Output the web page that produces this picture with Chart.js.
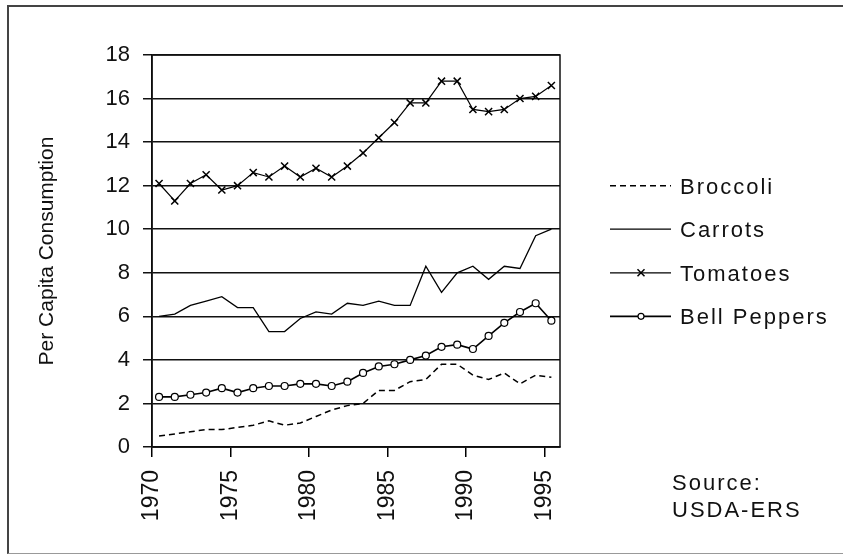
<!DOCTYPE html>
<html lang="en">
<head>
    <meta charset="UTF-8">
    <title>Per Capita Consumption</title>
    <script src="https://cdn.jsdelivr.net/npm/chart.js"></script>
    <style>
        * {
            margin: 0;
            padding: 0;
            box-sizing: border-box;
        }

        body {
            width: 843px;
            height: 554px;
            overflow: hidden;
            background: #fff;
            position: relative;
        }

        /* moldura da figura (sem lado direito, como na original) */
        .frame {
            position: absolute;
            left: 7px;
            top: 5px;
            width: 900px;
            height: 549px;
            border-top: 2px solid #444;
            border-left: 2px solid #444;
            border-bottom: 1px solid #999;
        }

        canvas {
            position: absolute;
            left: 0;
            top: 0;
        }
    </style>
</head>
<body>
    <div class="frame"></div>
    <canvas id="vegChart" width="843" height="554"></canvas>

    <script>
        // dados
        const years = [1970, 1971, 1972, 1973, 1974, 1975, 1976, 1977, 1978, 1979, 1980, 1981, 1982,
                       1983, 1984, 1985, 1986, 1987, 1988, 1989, 1990, 1991, 1992, 1993, 1994, 1995];
        const broccoli = [0.5, 0.6, 0.7, 0.8, 0.8, 0.9, 1.0, 1.2, 1.0, 1.1, 1.4, 1.7, 1.9,
                          2.0, 2.6, 2.6, 3.0, 3.1, 3.8, 3.8, 3.3, 3.1, 3.4, 2.9, 3.3, 3.2];
        const carrots = [6.0, 6.1, 6.5, 6.7, 6.9, 6.4, 6.4, 5.3, 5.3, 5.9, 6.2, 6.1, 6.6,
                         6.5, 6.7, 6.5, 6.5, 8.3, 7.1, 8.0, 8.3, 7.7, 8.3, 8.2, 9.7, 10.0];
        const tomatoes = [12.1, 11.3, 12.1, 12.5, 11.8, 12.0, 12.6, 12.4, 12.9, 12.4, 12.8, 12.4, 12.9,
                          13.5, 14.2, 14.9, 15.8, 15.8, 16.8, 16.8, 15.5, 15.4, 15.5, 16.0, 16.1, 16.6];
        const bellPeppers = [2.3, 2.3, 2.4, 2.5, 2.7, 2.5, 2.7, 2.8, 2.8, 2.9, 2.9, 2.8, 3.0,
                             3.4, 3.7, 3.8, 4.0, 4.2, 4.6, 4.7, 4.5, 5.1, 5.7, 6.2, 6.6, 5.8];
        const xTickYears = [1970, 1975, 1980, 1985, 1990, 1995];
        const yTicks = [0, 2, 4, 6, 8, 10, 12, 14, 16, 18];
        const sourceLines = ['Source:', 'USDA-ERS'];

        const FONT = "'Liberation Sans', Arial, sans-serif";

        // os pontos ficam no meio do ano
        const toPoints = (values) => values.map((v, i) => ({ x: years[i] + 0.45, y: v }));

        // legenda e fonte desenhadas à direita do gráfico
        const sideLegend = {
            id: 'sideLegend',
            afterDraw(chart) {
                const { ctx, chartArea } = chart;
                const x0 = chartArea.right + 50;
                const rowGap = (chartArea.bottom - chartArea.top) / 9;
                ctx.save();
                ctx.font = '22px ' + FONT;
                ctx.fillStyle = '#111';
                ctx.textBaseline = 'middle';
                ctx.letterSpacing = '2px';
                chart.data.datasets.forEach((ds, i) => {
                    const y = chartArea.top + rowGap * 3 + rowGap * i;
                    ctx.strokeStyle = '#000';
                    ctx.lineWidth = ds.borderWidth;
                    ctx.setLineDash(ds.borderDash || []);
                    ctx.beginPath();
                    ctx.moveTo(x0, y);
                    ctx.lineTo(x0 + 61, y);
                    ctx.stroke();
                    ctx.setLineDash([]);
                    const mx = x0 + 31;
                    if (ds.pointStyle === 'crossRot') {
                        ctx.lineWidth = 1.5;
                        ctx.beginPath();
                        ctx.moveTo(mx - 3.5, y - 3.5); ctx.lineTo(mx + 3.5, y + 3.5);
                        ctx.moveTo(mx - 3.5, y + 3.5); ctx.lineTo(mx + 3.5, y - 3.5);
                        ctx.stroke();
                    } else if (ds.pointStyle === 'circle') {
                        ctx.lineWidth = 1.2;
                        ctx.fillStyle = '#fff';
                        ctx.beginPath();
                        ctx.arc(mx, y, 3, 0, Math.PI * 2);
                        ctx.fill();
                        ctx.stroke();
                        ctx.fillStyle = '#111';
                    }
                    ctx.fillText(ds.label, x0 + 70, y + 2);
                });
                sourceLines.forEach((t, i) => {
                    ctx.fillText(t, chartArea.right + 112, chartArea.bottom + 37 + i * 27);
                });
                ctx.restore();
            }
        };

        // caixa em volta da área do gráfico
        const plotBox = {
            id: 'plotBox',
            afterDatasetsDraw(chart) {
                const { ctx, chartArea } = chart;
                ctx.save();
                ctx.strokeStyle = '#111';
                ctx.lineWidth = 1.5;
                ctx.strokeRect(chartArea.left, chartArea.top,
                    chartArea.right - chartArea.left, chartArea.bottom - chartArea.top);
                ctx.restore();
            }
        };

        const ctx = document.getElementById('vegChart').getContext('2d');
        const vegChart = new Chart(ctx, {
            type: 'line',
            data: {
                datasets: [{
                    label: 'Broccoli',
                    data: toPoints(broccoli),
                    borderColor: '#000',
                    borderWidth: 1.5,
                    borderDash: [6, 4],
                    pointRadius: 0,
                    tension: 0
                }, {
                    label: 'Carrots',
                    data: toPoints(carrots),
                    borderColor: '#000',
                    borderWidth: 1.3,
                    pointRadius: 0,
                    tension: 0
                }, {
                    label: 'Tomatoes',
                    data: toPoints(tomatoes),
                    borderColor: '#000',
                    borderWidth: 1.2,
                    pointStyle: 'crossRot',
                    pointRadius: 5,
                    pointBorderWidth: 1.5,
                    pointBorderColor: '#000',
                    tension: 0
                }, {
                    label: 'Bell Peppers',
                    data: toPoints(bellPeppers),
                    borderColor: '#000',
                    borderWidth: 1.6,
                    pointStyle: 'circle',
                    pointRadius: 3.5,
                    pointBorderWidth: 1.2,
                    pointBorderColor: '#000',
                    pointBackgroundColor: '#fff',
                    tension: 0
                }]
            },
            options: {
                responsive: false,
                animation: false,
                layout: {
                    padding: { left: 8, top: 55, right: 283, bottom: 8 }
                },
                plugins: {
                    legend: { display: false },
                    tooltip: { enabled: false }
                },
                scales: {
                    x: {
                        type: 'linear',
                        min: 1970,
                        max: 1996,
                        afterBuildTicks: (scale) => {
                            scale.ticks = xTickYears.map(v => ({ value: v }));
                        },
                        afterFit: (scale) => { scale.height = 99; },
                        grid: {
                            drawOnChartArea: false,
                            drawTicks: true,
                            tickLength: 10,
                            color: '#000',
                            lineWidth: 1.5
                        },
                        border: { display: true, color: '#000', width: 1.5 },
                        ticks: {
                            minRotation: 90,
                            maxRotation: 90,
                            padding: 13,
                            color: '#111',
                            font: { family: FONT, size: 23 },
                            callback: (v) => String(v)
                        }
                    },
                    y: {
                        min: 0,
                        max: 18,
                        afterBuildTicks: (scale) => {
                            scale.ticks = yTicks.map(v => ({ value: v }));
                        },
                        afterFit: (scale) => { scale.width = 144; },
                        grid: {
                            color: '#111',
                            lineWidth: 1.5,
                            tickLength: 9
                        },
                        border: { display: true, color: '#000', width: 1.5 },
                        ticks: {
                            padding: 13,
                            color: '#111',
                            font: { family: FONT, size: 22 }
                        },
                        title: {
                            display: true,
                            text: 'Per Capita Consumption',
                            color: '#111',
                            font: { family: FONT, size: 21 },
                            padding: { top: 27, bottom: 0 }
                        }
                    }
                }
            },
            plugins: [plotBox, sideLegend]
        });
    </script>
</body>
</html>
